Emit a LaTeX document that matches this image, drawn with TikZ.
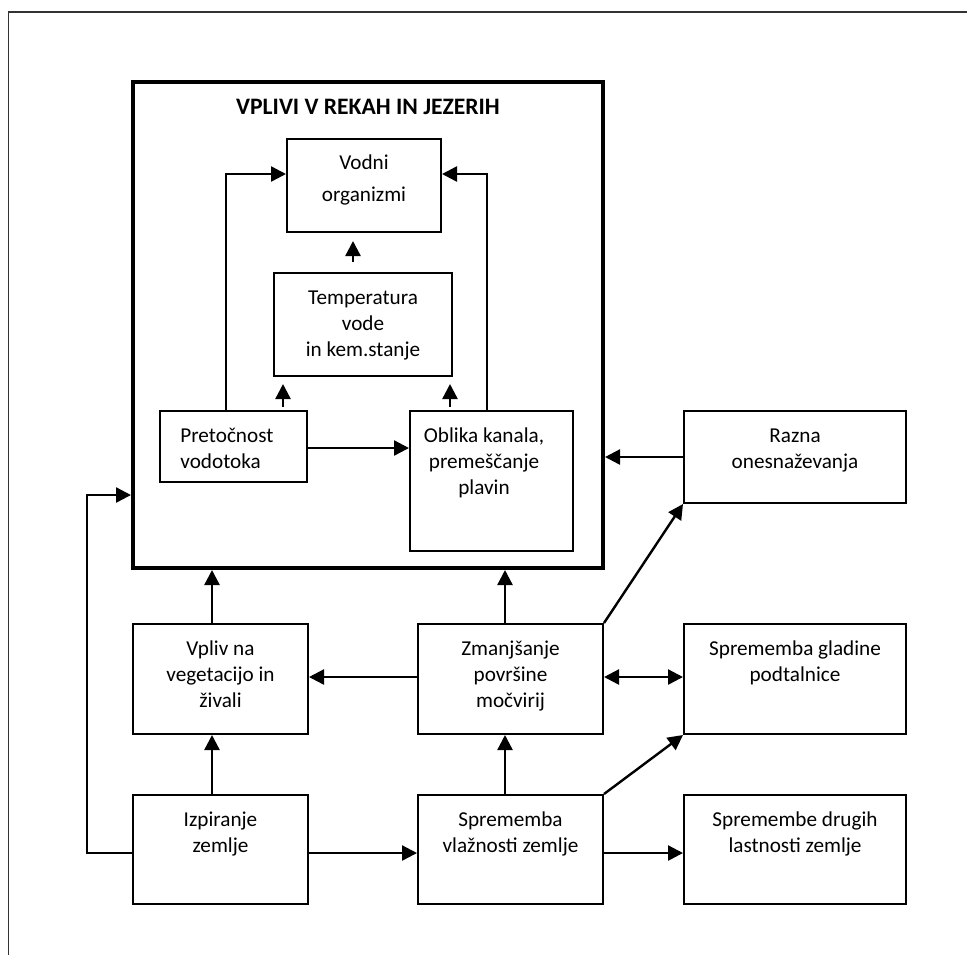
\documentclass[tikz,border=0pt]{standalone}
\usepackage{fontspec}
\setmainfont{Carlito}
\usetikzlibrary{arrows.meta,positioning}

\begin{document}
\begin{tikzpicture}[x=0.5pt,y=-0.5pt,
		box/.style={draw,line width=1pt,inner sep=0pt},
		txt/.style={align=center,inner sep=0pt,anchor=base,font=\fontsize{10.6pt}{13pt}\selectfont},
		arr/.style={line width=1.2pt,-{Triangle[length=7.5pt,width=7.5pt]}}]
		\useasboundingbox (0,0) rectangle (967,955);
		
		% Frame
		\draw[black!80,line width=0.8pt] (8.5,955) |- (967,12);
		
		% Rivers and lakes
		\node[box,line width=2pt,minimum width=235pt,minimum height=243pt] (main) at (368,325) {};
		\node[txt,font=\bfseries\fontsize{11.8pt}{14pt}\selectfont] (title) at (368,114) {VPLIVI V REKAH IN JEZERIH};
		
		% Boxes inside (base = last line)
		\node[box,minimum width=77pt,minimum height=46.5pt] (vodni) at (364,185.5) {};
		\node[txt,font=\fontsize{10.6pt}{16pt}\selectfont] (vodniT) at ([yshift=-31.5pt]vodni.north) {Vodni\\organizmi};
		
		\node[box,minimum width=89pt,minimum height=51.5pt] (temp) at (363,324.5) {};
		\node[txt] (tempT) at ([yshift=-42pt]temp.north) {Temperatura\\vode\\in kem.stanje};
		
		\node[box,minimum width=73.5pt,minimum height=35.5pt] (pret) at (233.5,446.5) {};
		\node[txt,align=left,anchor=base west] (pretT) at ([xshift=10.5pt,yshift=-29pt]pret.north west) {Pretočnost\\vodotoka};
		
		\node[box,minimum width=81.5pt,minimum height=70pt] (obl) at (491.5,481) {};
		\node[txt] (oblT) at ([xshift=-3.75pt,yshift=-42pt]obl.north) {Oblika kanala,\\premeščanje\\plavin};
		
		% Boxes outside
		\node[box,minimum width=111pt,minimum height=46pt] (razna) at (795,457) {};
		\node[txt] (raznaT) at ([yshift=-29pt]razna.north) {Razna\\onesnaževanja};
		
		\node[box,minimum width=87.5pt,minimum height=55pt] (vpliv) at (220.5,679) {};
		\node[txt] (vplivT) at ([yshift=-42pt]vpliv.north) {Vpliv na\\vegetacijo in\\živali};
		
		\node[box,minimum width=92.5pt,minimum height=55pt] (zman) at (510.5,679) {};
		\node[txt] (zmanT) at ([yshift=-42pt]zman.north) {Zmanjšanje\\površine\\močvirij};
		
		\node[box,minimum width=111pt,minimum height=55pt] (glad) at (795,679) {};
		\node[txt] (gladT) at ([yshift=-29pt]glad.north) {Sprememba gladine\\podtalnice};
		
		\node[box,minimum width=87.5pt,minimum height=54.5pt] (izp) at (220.5,849.5) {};
		\node[txt] (izpT) at ([yshift=-29pt]izp.north) {Izpiranje\\zemlje};
		
		\node[box,minimum width=92.5pt,minimum height=54.5pt] (vlaz) at (510.5,849.5) {};
		\node[txt] (vlazT) at ([yshift=-29pt]vlaz.north) {Sprememba\\vlažnosti zemlje};
		
		\node[box,minimum width=111pt,minimum height=54.5pt] (drug) at (795,849.5) {};
		\node[txt] (drugT) at ([yshift=-29pt]drug.north) {Spremembe drugih\\lastnosti zemlje};
		
		% Arrows inside
		\draw[arr] ([xshift=-3.75pt]pret.north) |- ([yshift=5.75pt]vodni.west);
		\draw[arr] ([xshift=-2.25pt]obl.north) |- ([yshift=5.75pt]vodni.east);
		\draw[arr,shorten <=5pt,shorten >=4pt] ([xshift=-5pt]temp.north) -- ([xshift=-5pt]temp.north |- vodni.south);
		\draw[arr,shorten <=1.5pt,shorten >=3.5pt] ([xshift=24.75pt]pret.north) -- ([xshift=24.75pt]pret.north |- temp.south);
		\draw[arr,shorten <=1.5pt,shorten >=3.5pt] ([xshift=-20.75pt]obl.north) -- ([xshift=-20.75pt]obl.north |- temp.south);
		\draw[arr] ([yshift=-0.75pt]pret.east) -- ([yshift=-0.75pt]pret.east -| obl.west);
		
		% Arrows to the main box
		\draw[arr] (razna.west) -- (razna.west -| main.east);
		\draw[arr] ([xshift=-4.25pt]vpliv.north) -- ([xshift=-4.25pt]vpliv.north |- main.south);
		\draw[arr] ([xshift=-2.75pt]zman.north) -- ([xshift=-2.75pt]zman.north |- main.south);
		\draw[arr] ([yshift=-1.75pt]izp.west) -- ++(-22.5pt,0) |- ([yshift=-85pt]main.west);
		
		% Arrows between the lower boxes
		\draw[arr] ([yshift=1pt]zman.west) -- ([yshift=1pt]vpliv.east);
		\draw[arr,{Triangle[length=7.5pt,width=7.5pt]}-{Triangle[length=7.5pt,width=7.5pt]}] ([yshift=1pt]zman.east) -- ([yshift=1pt]glad.west);
		\draw[arr] (zman.north east) -- (razna.south west);
		\draw[arr] ([xshift=-4.25pt]izp.north) -- ([xshift=-4.25pt]izp.north |- vpliv.south);
		\draw[arr] ([xshift=-2.75pt]vlaz.north) -- ([xshift=-2.75pt]vlaz.north |- zman.south);
		\draw[arr] ([yshift=-1.75pt]izp.east) -- ([yshift=-1.75pt]vlaz.west);
		\draw[arr] ([yshift=-1.75pt]vlaz.east) -- ([yshift=-1.75pt]drug.west);
		\draw[arr] (vlaz.north east) -- (glad.south west);
	\end{tikzpicture}
\end{document}
